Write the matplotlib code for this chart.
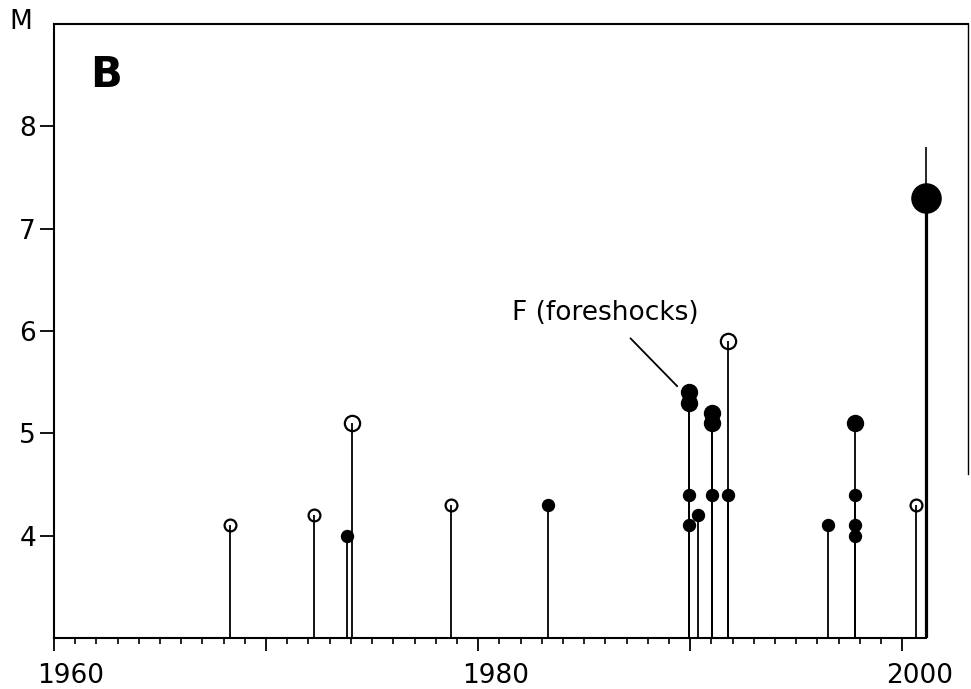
import numpy as np
import matplotlib.pyplot as plt
import matplotlib.transforms as mtransforms

plt.rc('font', family='DejaVu Sans')

LABEL_SIZE = 19

# events: decimal year, magnitude, filled (1) / open (0) symbol
years = [1968.3, 1972.26, 1973.82, 1974.06, 1978.73, 1983.3,
         1989.95, 1989.95, 1989.95, 1989.95, 1990.38,
         1991.04, 1991.04, 1991.04, 1991.79, 1991.79,
         1996.5, 1997.78, 1997.78, 1997.78, 1997.78,
         2000.66, 2001.13]
mags = [4.1, 4.2, 4.0, 5.1, 4.3, 4.3,
        5.4, 5.3, 4.4, 4.1, 4.2,
        5.2, 5.1, 4.4, 5.9, 4.4,
        4.1, 5.1, 4.4, 4.1, 4.0,
        4.3, 7.3]
filled = [0, 0, 1, 0, 0, 1,
          1, 1, 1, 1, 1,
          1, 1, 1, 0, 1,
          1, 1, 1, 1, 1,
          0, 1]

x_labels = ["1960", "", "1980", "", "2000"]
y_ticks = [4, 5, 6, 7, 8]

fig = plt.figure(figsize=(9.71, 6.89), dpi=100)
ax = fig.add_axes([54 / 971, 1 - 638 / 689, 914 / 971, 614 / 689])

# stems
for yr, m in zip(years, mags):
    if m > 7:
        ax.vlines(yr, 3, m, color='black', linewidth=2.3, zorder=2)
        ax.vlines(yr, m, 7.8, color='black', linewidth=1.2, zorder=2)
    else:
        ax.vlines(yr, 3, m, color='black', linewidth=1.3, zorder=2)

# symbols
for yr, m, f in zip(years, mags, filled):
    if m > 7:
        ms = 21
    elif m >= 5:
        ms = 11.5 if f else 11
    else:
        ms = 8.6 if f else 8.5
    if f:
        ax.plot(yr, m, 'o', ms=ms, color='black', mec='black', zorder=3)
    else:
        ax.plot(yr, m, 'o', ms=ms, mfc='none', mec='black', mew=1.6, zorder=3)

ax.set_xlim(1960, 2003.1)
ax.set_ylim(3, 9)

for side in ['top', 'left']:
    ax.spines[side].set_linewidth(1.5)
ax.spines['bottom'].set_linewidth(1.5)
ax.spines['bottom'].set_bounds(1960, 2001.13)
ax.spines['right'].set_linewidth(1.0)
ax.spines['right'].set_bounds(4.6, 9)

ax.set_xticks(np.arange(1960, 2001, 10))
ax.set_xticks(np.arange(1960, 2001, 1), minor=True)
ax.set_xticklabels(x_labels, fontsize=LABEL_SIZE)
ax.tick_params(axis='x', which='major', length=9, width=1.3, pad=9)
ax.tick_params(axis='x', which='minor', length=4.5, width=1.2)
offset = mtransforms.ScaledTranslation(0.17, 0, fig.dpi_scale_trans)
for lab in ax.get_xticklabels():
    lab.set_transform(lab.get_transform() + offset)

ax.set_yticks(y_ticks)
ax.set_yticklabels([str(v) for v in y_ticks], fontsize=LABEL_SIZE)
ax.tick_params(axis='y', which='major', length=10, width=1.3, pad=3)

fig.text(21 / 971, 1 - 22 / 689, "M", fontsize=LABEL_SIZE, ha='center', va='center')
ax.text(0.057, 0.917, "B", transform=ax.transAxes, fontsize=30,
        fontweight='bold', ha='center', va='center')

ax.annotate("F (foreshocks)", xy=(1989.39, 5.46), xytext=(1986.0, 6.18),
            fontsize=LABEL_SIZE, ha='center', va='center',
            arrowprops=dict(arrowstyle='-', color='black', lw=1.3,
                            shrinkA=10, shrinkB=0))

plt.savefig("out.png", dpi=100)
